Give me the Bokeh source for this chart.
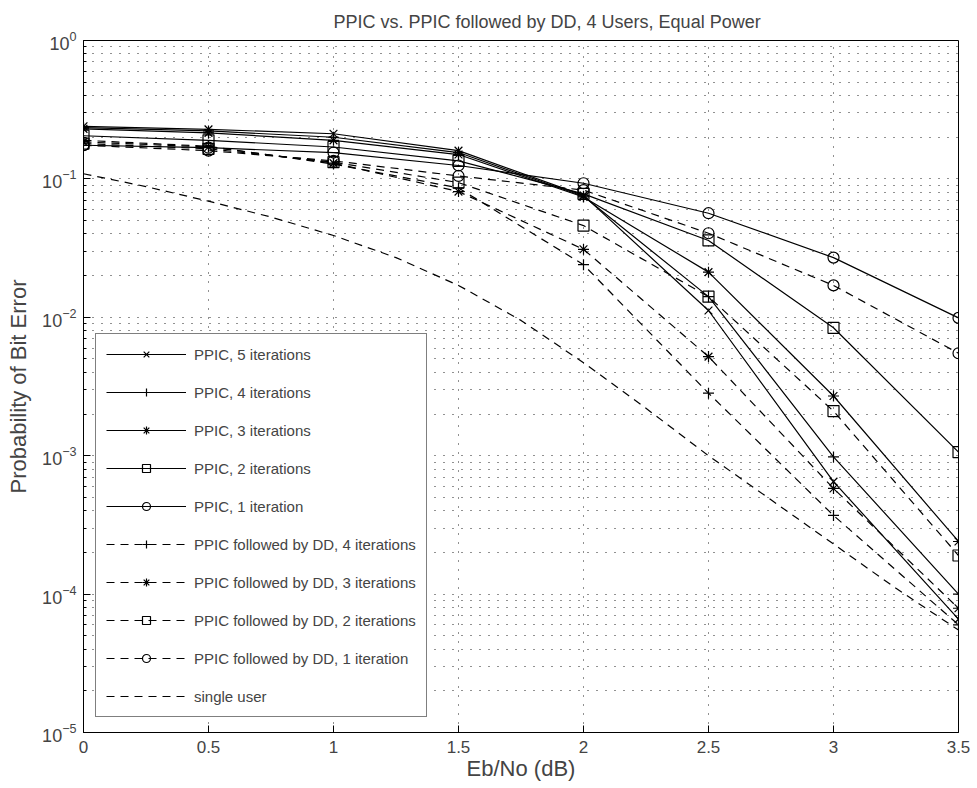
from bokeh.plotting import figure
from bokeh.models import (FixedTicker, Legend, LegendItem, Range1d)
from bokeh.embed import file_html
from bokeh.resources import INLINE

# ---- data ----
ebno = [0, 0.5, 1, 1.5, 2, 2.5, 3, 3.5]

ppic5 = [0.240, 0.228, 0.212, 0.160, 0.076, 0.0112, 6.5e-4, 6.6e-5]
ppic4 = [0.235, 0.222, 0.200, 0.155, 0.075, 0.0141, 9.8e-4, 1.0e-4]
ppic3 = [0.230, 0.215, 0.190, 0.150, 0.074, 0.0212, 2.7e-3, 2.4e-4]
ppic2 = [0.205, 0.190, 0.170, 0.135, 0.078, 0.0359, 8.4e-3, 1.06e-3]
ppic1 = [0.175, 0.168, 0.155, 0.125, 0.093, 0.0565, 0.027, 0.0099]

dd4 = [0.190, 0.172, 0.128, 0.086, 0.024, 2.83e-3, 3.7e-4, 6.0e-5]
dd3 = [0.185, 0.170, 0.130, 0.081, 0.031, 5.2e-3, 5.8e-4, 7.9e-5]
dd2 = [0.180, 0.165, 0.132, 0.094, 0.046, 0.0141, 2.1e-3, 1.9e-4]
dd1 = [0.175, 0.160, 0.135, 0.105, 0.083, 0.0405, 0.017, 5.5e-3]

su_ebno = [0, 0.25, 0.5, 0.75, 1.0, 1.25, 1.5, 1.75, 2.0, 2.25, 2.5, 2.75, 3.0, 3.25, 3.5]
single_user = [0.109, 0.088, 0.069, 0.053, 0.039, 0.027, 0.017, 0.0095, 0.0047,
               0.0022, 1.0e-3, 4.8e-4, 2.3e-4, 1.1e-4, 5.5e-5]

x_ticks = [0, 0.5, 1, 1.5, 2, 2.5, 3, 3.5]
y_ticks = [1e-5, 1e-4, 1e-3, 1e-2, 1e-1, 1e0]
y_minor = [m * 10.0 ** e for e in range(-5, 0) for m in range(2, 10)]

series = [
    ("PPIC, 5 iterations", ebno, ppic5, "x", "solid"),
    ("PPIC, 4 iterations", ebno, ppic4, "cross", "solid"),
    ("PPIC, 3 iterations", ebno, ppic3, "asterisk", "solid"),
    ("PPIC, 2 iterations", ebno, ppic2, "square", "solid"),
    ("PPIC, 1 iteration", ebno, ppic1, "circle", "solid"),
    ("PPIC followed by DD, 4 iterations", ebno, dd4, "cross", "dashed"),
    ("PPIC followed by DD, 3 iterations", ebno, dd3, "asterisk", "dashed"),
    ("PPIC followed by DD, 2 iterations", ebno, dd2, "square", "dashed"),
    ("PPIC followed by DD, 1 iteration", ebno, dd1, "circle", "dashed"),
    ("single user", su_ebno, single_user, None, "dashed"),
]

FONT = "Liberation Sans"
DASH = "8 6"

p = figure(width=977, height=788, y_axis_type="log",
           x_range=Range1d(0, 3.5), y_range=Range1d(1e-5, 1),
           output_backend="svg", toolbar_location=None,
           min_border_left=83, min_border_right=19,
           min_border_top=40, min_border_bottom=56)

p.title.text = "PPIC vs. PPIC followed by DD, 4 Users, Equal Power"
p.title.text_font = FONT
p.title.text_font_size = "18px"
p.title.text_font_style = "normal"
p.title.align = "left"
p.title.offset = 250
p.title.standoff = 18

p.outline_line_color = "black"
p.outline_line_width = 1

for ax in (p.xaxis[0], p.yaxis[0]):
    ax.axis_line_color = "black"
    ax.major_tick_in = 7
    ax.major_tick_out = 0
    ax.minor_tick_in = 3
    ax.minor_tick_out = 0
    ax.major_label_text_font = FONT
    ax.major_label_text_font_size = "17px"
    ax.axis_label_text_font = FONT
    ax.axis_label_text_font_size = "22px"
    ax.axis_label_text_font_style = "normal"

p.xaxis[0].ticker = FixedTicker(ticks=x_ticks)
p.xaxis[0].axis_label = "Eb/No (dB)"
p.xaxis[0].major_label_standoff = 8
p.xaxis[0].axis_label_standoff = 0
p.yaxis[0].ticker = FixedTicker(ticks=y_ticks, minor_ticks=y_minor)
p.yaxis[0].major_label_text_font_size = "18px"
p.yaxis[0].axis_label = "Probability of Bit Error"
p.yaxis[0].major_label_standoff = 7
p.yaxis[0].axis_label_standoff = 8

p.xgrid.ticker = FixedTicker(ticks=x_ticks)
p.xgrid.grid_line_color = "#222222"
p.xgrid.grid_line_dash = "1 8"
p.xgrid.grid_line_width = 1
p.ygrid.ticker = FixedTicker(ticks=y_ticks, minor_ticks=y_minor)
p.ygrid.grid_line_color = "#222222"
p.ygrid.grid_line_dash = "1 8"
p.ygrid.minor_grid_line_color = "#222222"
p.ygrid.minor_grid_line_dash = "1 8"

items = []
for label, xs, ys, marker, style in series:
    dash = "solid" if style == "solid" else DASH
    r_line = p.line(xs, ys, line_color="black", line_width=1.2, line_dash=dash)
    rends = [r_line]
    if marker is not None:
        r_m = p.scatter(xs, ys, marker=marker, size=11, line_color="black",
                        fill_color=None, line_width=1.2)
        rends.append(r_m)
    items.append(LegendItem(label=label, renderers=rends))

legend = Legend(items=items, location=(12, 15))
legend.border_line_color = "black"
legend.border_line_width = 1
legend.background_fill_color = "white"
legend.background_fill_alpha = 1
legend.label_text_font = FONT
legend.label_text_font_size = "15px"
legend.glyph_width = 80
legend.glyph_height = 20
legend.label_height = 20
legend.spacing = 18
legend.padding = 10
legend.margin = 0
legend.label_standoff = 8
p.add_layout(legend)

open("out.html", "w").write(file_html(p, INLINE))
